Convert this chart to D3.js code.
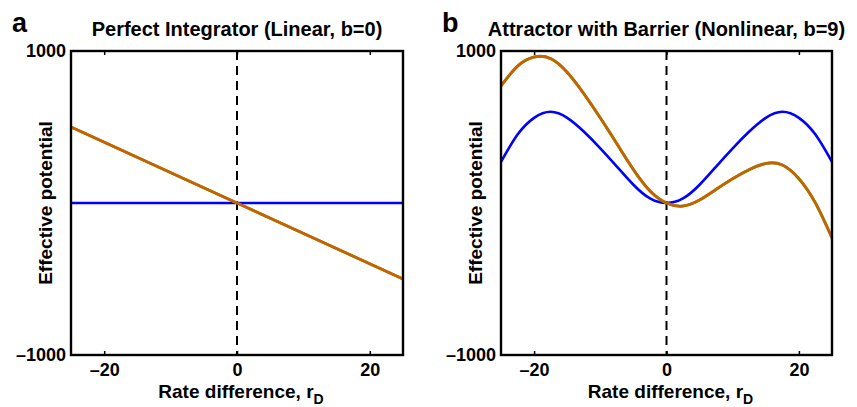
<!DOCTYPE html>
<html>
<head>
<meta charset="utf-8">
<script src="https://cdn.jsdelivr.net/npm/d3@7"></script>
<style>
  body { margin: 0; background: #fff; }
  text { font-family: "Liberation Sans", Arial, sans-serif; font-weight: bold; fill: #000; }
</style>
</head>
<body>
<div class="chart-container"></div>
<script>
//! DATA
const xTicks = [-20, 0, 20]
const yTicks = [-1000, 1000]

// panel a : perfect integrator
const linX = [-25, 0, 25]
const linBlue = [0, 0, 0]
const linOrange = [500, 0, -500]

// panel b : attractor with barrier
const nlX = [-25, -22.5, -20, -17.5, -15, -12.5, -10, -7.5, -5, -2.5, 0,
             2.5, 5, 7.5, 10, 12.5, 15, 17.5, 20, 22.5, 25]
const nlBlue = [270, 450, 560, 600, 560, 470, 360, 240, 120, 30, 0,
                30, 120, 240, 360, 470, 560, 600, 560, 450, 270]
const nlOrange = [770, 900, 960, 950, 860, 720, 560, 390, 220, 80, 0,
                  -20, 20, 90, 160, 220, 260, 250, 160, 0, -230]

//! CONSTS
const width = 857
const height = 407
const plotTop = 51, plotBottom = 355

const svg = d3.select('.chart-container')
  .append('svg')
  .attr('width', width)
  .attr('height', height)

function panel(letter, title, left, right, xs, blue, orange) {
  const xScale = d3.scaleLinear().domain([-25, 25]).range([left, right])
  const yScale = d3.scaleLinear().domain([-1000, 1000]).range([plotBottom, plotTop])
  const g = svg.append('g')

  const line = d3.line()
    .x(d => xScale(d[0]))
    .y(d => yScale(d[1]))
    .curve(d3.curveNatural)

  // zero line
  g.append('line')
    .attr('x1', xScale(0)).attr('x2', xScale(0))
    .attr('y1', plotTop).attr('y2', plotBottom)
    .attr('stroke', '#000').attr('stroke-width', 2)
    .attr('stroke-dasharray', '9,6')

  g.append('path')
    .datum(xs.map((x, i) => [x, blue[i]]))
    .attr('d', line)
    .attr('fill', 'none').attr('stroke', '#0000ff').attr('stroke-width', 2.6)

  const od = xs.map((x, i) => [x, orange[i]])
  g.append('path').datum(od).attr('d', line)
    .attr('fill', 'none').attr('stroke', '#55a010').attr('stroke-width', 3.0)
  g.append('path').datum(od).attr('d', line)
    .attr('fill', 'none').attr('stroke', '#cc6000').attr('stroke-width', 2.6)

  //! AXES
  const fmt = d => d < 0 ? '\u2013' + Math.abs(d) : d
  const xAxis = g.append('g')
    .attr('transform', `translate(0,${plotBottom})`)
    .call(d3.axisBottom(xScale).tickValues(xTicks).tickSizeInner(-4).tickSizeOuter(0).tickPadding(8).tickFormat(fmt))
  const xTop = g.append('g')
    .attr('transform', `translate(0,${plotTop})`)
    .call(d3.axisTop(xScale).tickValues(xTicks).tickSizeInner(-4).tickSizeOuter(0).tickFormat(''))
  const yAxis = g.append('g')
    .attr('transform', `translate(${left},0)`)
    .call(d3.axisLeft(yScale).tickValues(yTicks).tickSize(0).tickPadding(5).tickFormat(fmt))
  ;[xAxis, xTop, yAxis].forEach(a => {
    a.select('.domain').remove()
    a.selectAll('line').attr('stroke', '#000').attr('stroke-width', 1.5)
    a.selectAll('text').style('font-size', '18px')
  })
  xAxis.selectAll('text').attr('dy', '0.71em')

  g.append('rect')
    .attr('x', left).attr('y', plotTop)
    .attr('width', right - left).attr('height', plotBottom - plotTop)
    .attr('fill', 'none').attr('stroke', '#000').attr('stroke-width', 2.4)

  //! LABELS
  const cx = (left + right) / 2
  g.append('text').attr('x', cx).attr('y', 36)
    .attr('text-anchor', 'middle').style('font-size', '20px').text(title)
  g.append('text').attr('x', left - 59).attr('y', 32)
    .style('font-size', '27px').text(letter)

  const xl = g.append('text').attr('x', cx + 4).attr('y', 398)
    .attr('text-anchor', 'middle').style('font-size', '19px')
  xl.append('tspan').text('Rate difference, r')
  xl.append('tspan').attr('dy', 6).style('font-size', '14px').text('D')

  g.append('text')
    .attr('transform', `translate(${left - 19},${(plotTop + plotBottom) / 2}) rotate(-90)`)
    .attr('text-anchor', 'middle').style('font-size', '19px')
    .text('Effective potential')
}

panel('a', 'Perfect Integrator (Linear, b=0)', 71, 403, linX, linBlue, linOrange)
panel('b', 'Attractor with Barrier (Nonlinear, b=9)', 501, 832, nlX, nlBlue, nlOrange)
</script>
</body>
</html>
